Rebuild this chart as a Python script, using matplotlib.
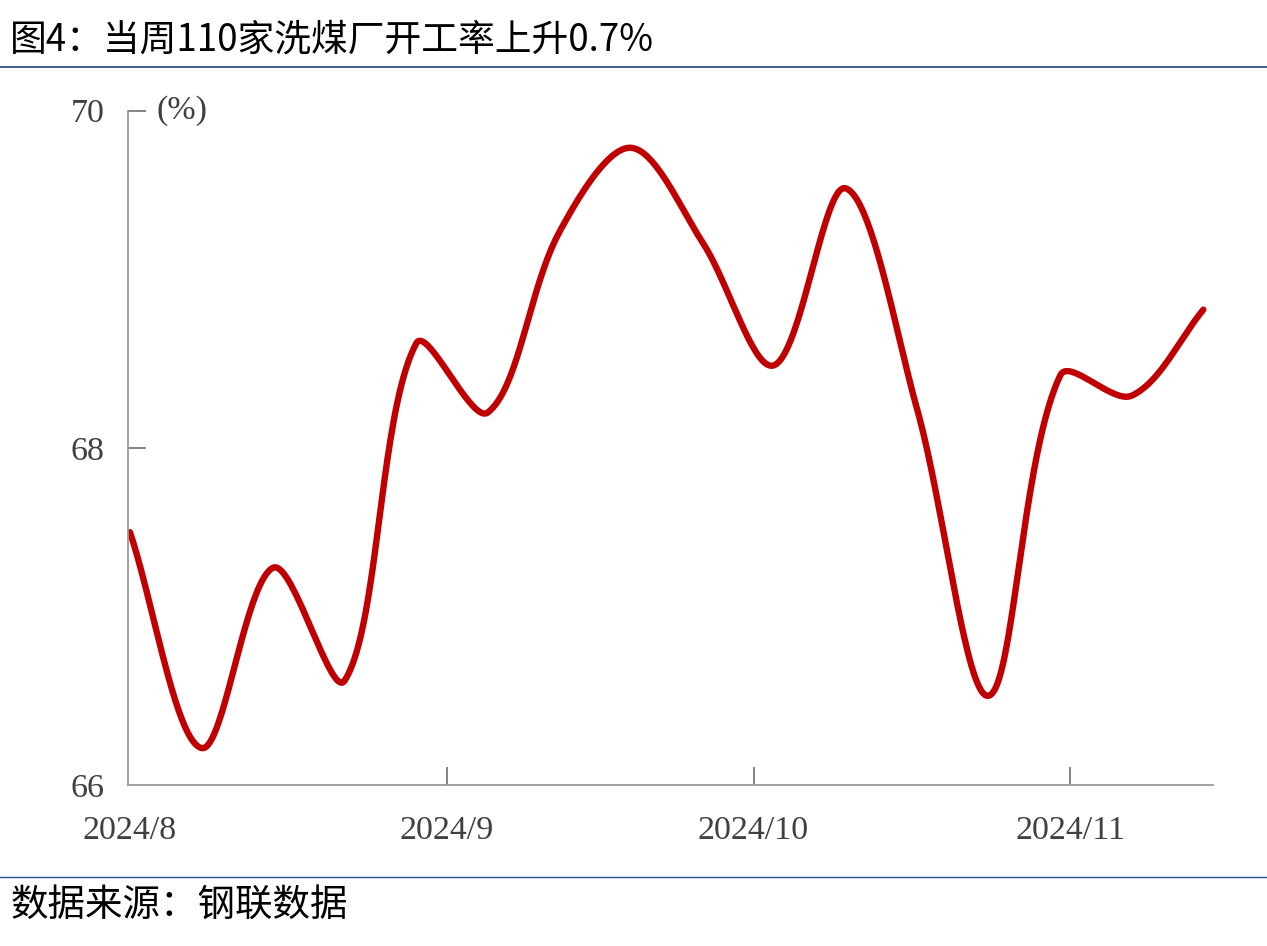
import numpy as np
import pandas as pd
import matplotlib
matplotlib.use("Agg")
import matplotlib.pyplot as plt
import matplotlib.dates as mdates
from matplotlib.lines import Line2D

plt.rcParams['font.family'] = ['Noto Sans CJK SC', 'DejaVu Sans']

# weekly operating rate of 110 coal washing plants (%)
dates = pd.date_range("2024-08-01", periods=16, freq="7D")
rate = [67.50, 66.22, 67.29, 66.62, 68.62, 68.21, 69.28, 69.78,
        69.22, 68.49, 69.54, 68.23, 66.53, 68.43, 68.31, 68.82]
month_ticks = pd.to_datetime(["2024-08-01", "2024-09-01", "2024-10-01", "2024-11-01"])
month_labels = ["2024/8", "2024/9", "2024/10", "2024/11"]
y_ticks = [66, 68, 70]

FIG_W, FIG_H = 12.67, 9.46
AX_RECT = [0.101, 0.170, 0.856, 0.713]


def smooth(x, y, kx, ky, n=40):
    # office-style smoothed line: bezier segments, tangents scaled by
    # neighbouring segment lengths measured on screen
    P = np.column_stack([np.asarray(x, float) * kx, np.asarray(y, float) * ky])
    P = np.vstack([P[0], P, P[-1]])
    t = np.linspace(0, 1, n)[:, None]
    out = []
    for i in range(1, len(P) - 2):
        p0, p1, p2, p3 = P[i - 1], P[i], P[i + 1], P[i + 2]
        d01 = np.hypot(*(p1 - p0))
        d12 = np.hypot(*(p2 - p1))
        d23 = np.hypot(*(p3 - p2))
        f1 = d12 / (d01 + d12) if d01 + d12 > 0 else 0
        f2 = d12 / (d12 + d23) if d12 + d23 > 0 else 0
        c1 = p1 + (p2 - p0) * f1 / 3
        c2 = p2 - (p3 - p1) * f2 / 3
        b = ((1 - t) ** 3) * p1 + 3 * ((1 - t) ** 2) * t * c1 + 3 * (1 - t) * t ** 2 * c2 + t ** 3 * p2
        out.append(b)
    b = np.vstack(out)
    return b[:, 0] / kx, b[:, 1] / ky


xnum = mdates.date2num(dates)
x0, x1 = xnum[0] - 0.2, xnum[-1] + 0.9
kx = AX_RECT[2] * FIG_W * 100 / (x1 - x0)
ky = AX_RECT[3] * FIG_H * 100 / 4.0
sx, sy = smooth(xnum, rate, kx, ky)

fig = plt.figure(figsize=(FIG_W, FIG_H), dpi=100)
ax = fig.add_axes(AX_RECT)

ax.plot(sx, sy, color="#C00000", lw=4.6, solid_capstyle="round", solid_joinstyle="round")

ax.set_ylim(66, 70)
ax.set_yticks(y_ticks)
ax.set_xlim(x0, x1)
ax.set_xticks(mdates.date2num(month_ticks))
ax.set_xticklabels(month_labels)

for s in ["top", "right"]:
    ax.spines[s].set_visible(False)
for s in ["left", "bottom"]:
    ax.spines[s].set_color("#9a9a9a")
    ax.spines[s].set_linewidth(1.3)

serif = ['Liberation Serif', 'DejaVu Serif']
ax.tick_params(axis="both", direction="in", length=13, width=1.2, color="#707070",
               labelsize=24.5, labelcolor="#404040")
ax.tick_params(axis="x", pad=22)
ax.tick_params(axis="y", pad=17)
for lab in ax.get_xticklabels() + ax.get_yticklabels():
    lab.set_family(serif)
ax.xaxis.get_major_ticks()[0].tick1line.set_visible(False)
ax.yaxis.get_major_ticks()[0].tick1line.set_visible(False)

ax.text(0.026, 1.0, "(%)", transform=ax.transAxes, fontsize=24.5, color="#404040",
        family=serif, va="center", ha="left")

fig.text(0.008, 0.958, "图4：当周110家洗煤厂开工率上升0.7%", fontsize=26.5, color="black",
         va="center", ha="left")
fig.add_artist(Line2D([0, 1], [0.929, 0.929], transform=fig.transFigure, color="#2F4F8F", lw=1.3))
fig.add_artist(Line2D([0, 1], [0.073, 0.073], transform=fig.transFigure, color="#2F4F8F", lw=1.0))
fig.text(0.008, 0.043, "数据来源：钢联数据", fontsize=27, color="black", va="center", ha="left")

fig.savefig("out.png", dpi=100)
